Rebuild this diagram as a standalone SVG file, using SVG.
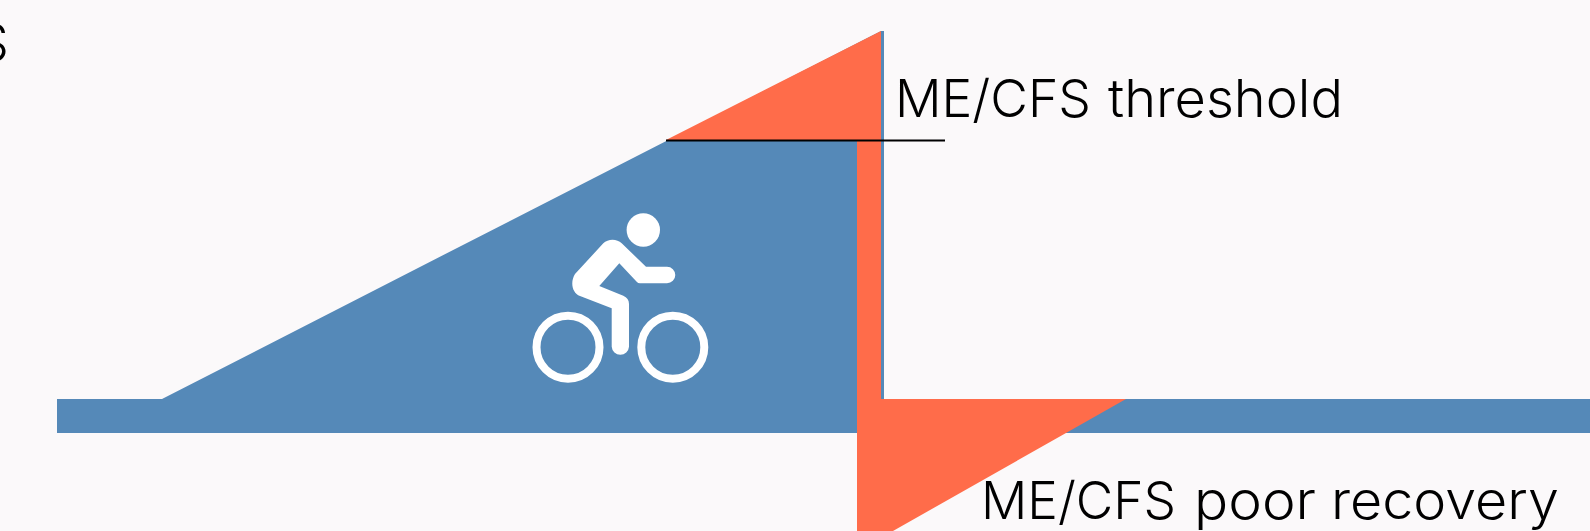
<svg xmlns="http://www.w3.org/2000/svg" width="1590" height="531" viewBox="0 0 1590 531">
<style>
.bg{fill:#fbf9fa}.blue{fill:#5589b8}.orange{fill:#ff6c4a}.white{fill:#fff}
.ring{fill:none;stroke:#fff;stroke-width:8}
.label{font-family:"Inter","Liberation Sans",sans-serif;font-weight:300;font-size:52px;fill:#000}
</style>
<rect class="bg" width="1590" height="531"/>
<g id="baseline-curve"><polygon class="blue" points="57,399 162,399 881,31 884,31 884,399 1590,399 1590,433 57,433"/></g>
<g id="me-cfs-overlay"><polygon class="orange" points="666,140 881,31 881,399 1126,399 1066,433 893,531 857,531 857,140"/></g>
<g id="threshold-line"><line x1="666" y1="140.500" x2="945" y2="140.500" stroke="#000" stroke-width="2"/></g>
<g id="cyclist">
<circle class="white" cx="643.300" cy="230" r="16.700"/>
<path class="white" d="M575 274L603.300 243.300C608 238.500 617 238.500 621.700 243.300L646 266.700H667A8.300 8.300 0 0 1 667 283.300H640Q638 283.300 636.700 281.700L619.300 263.300L599.300 286L623.300 295.700C627 297.500 629 300 629 304V346.700A8.670 8.670 0 0 1 611.700 346.700V308.300L580 296C572 293 570 282 575 274Z"/>
<circle class="ring" cx="568" cy="347.200" r="31.500"/>
<circle class="ring" cx="672.800" cy="347.200" r="31.500"/>
</g>
<g id="clipped-label"><text class="label" x="-24" y="61">S</text></g>
<g id="threshold-label"><text class="label" y="117"><tspan x="895" textLength="196" lengthAdjust="spacingAndGlyphs">ME/CFS</tspan> <tspan x="1108" textLength="235" lengthAdjust="spacingAndGlyphs">threshold</tspan></text></g>
<g id="recovery-label"><text class="label" y="519"><tspan x="981" textLength="195" lengthAdjust="spacingAndGlyphs">ME/CFS</tspan> <tspan x="1194" textLength="122" lengthAdjust="spacingAndGlyphs">poor</tspan> <tspan x="1331" textLength="228" lengthAdjust="spacingAndGlyphs">recovery</tspan></text></g>
</svg>
